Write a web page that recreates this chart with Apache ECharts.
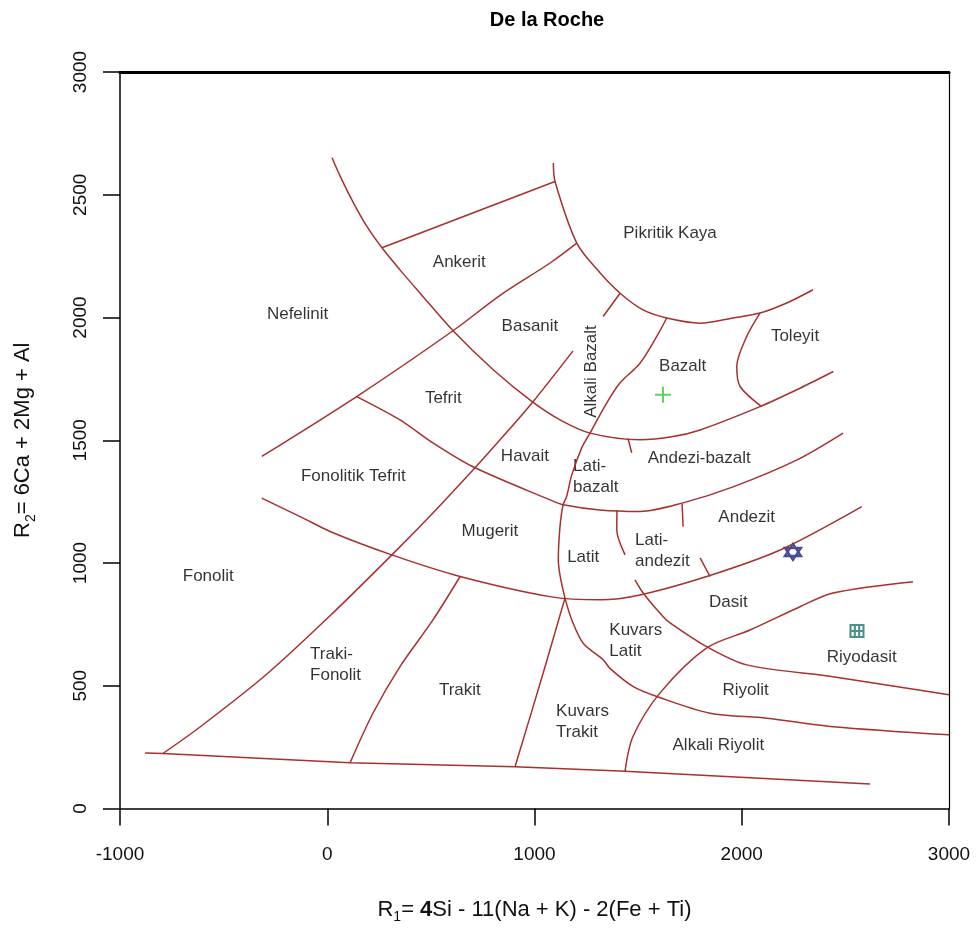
<!DOCTYPE html>
<html>
<head>
<meta charset="utf-8">
<script src="https://cdn.jsdelivr.net/npm/echarts@6/dist/echarts.min.js"></script>
<style>
  html, body { margin: 0; padding: 0; background: #ffffff; }
  #chart { width: 978px; height: 930px; }
</style>
</head>
<body>
<div id="chart"></div>
<script>
// De la Roche R1-R2 classification diagram: field boundaries in (R1, R2) units
const bndA = [[23,2651],[66,2569],[129,2463],[192,2370],[264,2284],[351,2194],[448,2099],[607,1946],[801,1787],[987,1658],[1123,1583],[1268,1529],[1509,1502],[1668,1515],[1799,1542],[2088,1637],[2281,1712],[2442,1780]];
const bndB = [[1091,2629],[1099,2554],[1204,2303],[1316,2182],[1413,2099],[1524,2031],[1638,1998],[1799,1977],[1958,1998],[2088,2018],[2217,2059],[2344,2113]];
const bndC = [[-316,1434],[142,1678],[607,1946],[834,2090],[1075,2222],[1204,2303]];
const bndD = [[142,1678],[351,1583],[510,1489],[703,1392],[1075,1257],[1138,1237],[1316,1216],[1509,1210],[1717,1245],[1958,1310],[2267,1420],[2489,1529]];
const bndE = [[-316,1264],[-131,1189],[28,1123],[311,1033],[641,945],[1075,863],[1316,850],[1509,870],[1831,945],[2185,1053],[2579,1230]];
const bndF1 = [[-793,224],[-614,332],[-291,548],[28,797],[312,1033],[510,1204],[703,1379],[834,1502],[988,1652],[1186,1864]];
const bndF2 = [[1331,2004],[1413,2099]];
const bndG = [[264,2284],[1099,2554]];
const bndH = [[1638,1998],[1590,1923],[1509,1814],[1413,1734],[1348,1651],[1268,1529],[1228,1469],[1180,1359],[1155,1271],[1138,1237],[1123,1148],[1115,1013],[1147,857]];
const bndI = [[1147,857],[1042,552],[906,170]];
const bndJ = [[1147,857],[1180,768],[1235,673],[1332,605],[1364,571],[1477,496],[1590,456],[1847,388],[2120,368],[2442,333],[3000,300]];
const bndK = [[1485,931],[1524,878],[1620,782],[1654,756],[1831,659],[2024,585],[2440,537],[3000,463]];
const bndL = [[1398,1216],[1397,1135],[1437,1033]];
const bndM = [[1712,1241],[1717,1148]];
const bndN = [[1799,1021],[1847,945]];
const bndO = [[1451,1508],[1469,1449]];
const bndP = [[2826,924],[2440,878],[2281,822],[2040,727],[1831,654],[1606,471],[1475,293],[1437,152]];
const bndQ = [[2088,2018],[2024,1923],[1976,1800],[1992,1719],[2096,1637]];
const bndS = [[-879,226],[-793,224],[110,186],[906,170],[1437,152],[2619,100]];
const bndT = [[641,945],[510,768],[351,578],[221,389],[110,186]];

const curvedBoundaries = [bndA, bndB, bndC, bndD, bndE, bndF1, bndH, bndI, bndJ, bndK, bndL, bndP, bndQ, bndT];
const straightBoundaries = [bndF2, bndG, bndM, bndN, bndO, bndS];

// Field names and their anchor points
const fieldNames = ['Ankerit','Nefelinit','Basanit','Tefrit','Havait','Fonolitik Tefrit','Mugerit','Fonolit','Trakit','Pikritik Kaya','Bazalt','Toleyit','Andezi-bazalt','Andezit','Latit','Dasit','Riyodasit','Riyolit','Alkali Riyolit'];
const fieldPos = [[637,2224],[-143,2014],[978,1963],[560,1672],[954,1436],[126,1352],[785,1128],[-574,945],[640,483],[1654,2344],[1715,1800],[2257,1923],[1795,1427],[2024,1187],[1235,1024],[1935,839],[2579,616],[2019,483],[1887,259]];
// Two-line names, left aligned at their anchor
const stackedNames = ['Traki-\nFonolit','Lati-\nbazalt','Lati-\nandezit','Kuvars\nLatit','Kuvars\nTrakit'];
const stackedPos = [[-83,586],[1186,1350],[1485,1051],[1361,685],[1104,352]];
// Vertical name
const verticalNames = ['Alkali Bazalt'];
const verticalPos = [[1276,1780]];

// Samples
const samplePlus = [[1620,1685]];
const sampleStar = [[2247,1045]];
const sampleGrid = [[2556,723]];

// Axis ticks
const xTicks = [-1000, 0, 1000, 2000, 3000];
const yTicks = [0, 500, 1000, 1500, 2000, 2500, 3000];

const lineColor = '#a8302e';
const font = '"Liberation Sans", Arial, sans-serif';

const series = [];
curvedBoundaries.forEach(function (d) {
  series.push({ type: 'line', data: d, symbol: 'none', smooth: 0.3, silent: true,
    lineStyle: { color: lineColor, width: 1.5 } });
});
straightBoundaries.forEach(function (d) {
  series.push({ type: 'line', data: d, symbol: 'none', smooth: false, silent: true,
    lineStyle: { color: lineColor, width: 1.5 } });
});

const labelBase = { show: true, position: [0, 0], color: '#000', fontFamily: font, fontSize: 17 };
series.push({
  type: 'scatter', symbolSize: 0, silent: true,
  data: fieldNames.map(function (n, i) { return { name: n, value: fieldPos[i] }; }),
  label: Object.assign({}, labelBase, { formatter: '{b}', align: 'center', verticalAlign: 'middle' })
});
series.push({
  type: 'scatter', symbolSize: 0, silent: true,
  data: stackedNames.map(function (n, i) { return { name: n, value: stackedPos[i] }; }),
  label: Object.assign({}, labelBase, { formatter: '{b}', align: 'left', verticalAlign: 'middle', lineHeight: 21 })
});
series.push({
  type: 'scatter', symbolSize: 0, silent: true,
  data: verticalNames.map(function (n, i) { return { name: n, value: verticalPos[i] }; }),
  label: Object.assign({}, labelBase, { formatter: '{b}', align: 'center', verticalAlign: 'middle', rotate: 90 })
});

series.push({
  type: 'scatter', data: samplePlus, symbolSize: [16, 16], silent: true,
  symbol: 'path://M-1,-8 L1,-8 L1,-1 L8,-1 L8,1 L1,1 L1,8 L-1,8 L-1,1 L-8,1 L-8,-1 L-1,-1 Z',
  itemStyle: { color: '#3cc43c' }
});
series.push({
  type: 'scatter', data: sampleStar, symbolSize: [16, 16], silent: true,
  symbol: 'path://M0,-10 L8.66,5 L-8.66,5 Z M0,10 L-8.66,-5 L8.66,-5 Z',
  itemStyle: { color: 'rgba(0,0,0,0)', borderColor: '#1c1f78', borderWidth: 2.4 }
});
series.push({
  type: 'scatter', data: sampleGrid, symbolSize: [13, 12], silent: true,
  symbol: 'path://M-6,-5 L6,-5 L6,5 L-6,5 Z M-2,-5 L-2,5 M2,-5 L2,5 M-6,0 L6,0',
  itemStyle: { color: 'rgba(0,0,0,0)', borderColor: '#1f7470', borderWidth: 2 }
});

function plainNumber(v) { return String(v); }

const chart = echarts.init(document.getElementById('chart'), null, { renderer: 'canvas' });
chart.setOption({
  animation: false,
  backgroundColor: '#ffffff',
  title: {
    text: 'De la Roche', left: 542, top: 5, textAlign: 'center',
    textStyle: { fontFamily: font, fontWeight: 'bold', fontSize: 20, color: '#000' }
  },
  grid: { left: 120, right: 29, top: 72, bottom: 121.5, containLabel: false },
  xAxis: [{
    type: 'value', position: 'bottom', min: xTicks[0], max: xTicks[xTicks.length - 1], interval: 1000,
    axisLine: { show: true, onZero: false, lineStyle: { color: '#000', width: 1.5 } },
    axisTick: { show: true, inside: false, length: 17, lineStyle: { color: '#000', width: 1.5 } },
    axisLabel: { margin: 37, fontFamily: font, fontSize: 19, color: '#111', formatter: plainNumber },
    splitLine: { show: false },
    name: '{a|R}{s|1}{a|= }{b|4}{a|Si - 11(Na + K) - 2(Fe + Ti)}',
    nameLocation: 'middle', nameGap: 86,
    nameTextStyle: {
      rich: {
        a: { fontFamily: font, fontSize: 22, lineHeight: 30, color: '#111' },
        b: { fontFamily: font, fontSize: 22, lineHeight: 30, fontWeight: 'bold', color: '#111' },
        s: { fontFamily: font, fontSize: 14, lineHeight: 14, verticalAlign: 'bottom', color: '#111' }
      }
    }
  }, {
    type: 'value', position: 'top', min: xTicks[0], max: xTicks[xTicks.length - 1],
    axisLine: { show: true, onZero: false, lineStyle: { color: '#000', width: 3 } },
    axisTick: { show: false }, axisLabel: { show: false }, splitLine: { show: false }
  }],
  yAxis: [{
    type: 'value', position: 'left', min: yTicks[0], max: yTicks[yTicks.length - 1], interval: 500,
    axisLine: { show: true, onZero: false, lineStyle: { color: '#000', width: 1.5 } },
    axisTick: { show: true, inside: false, length: 17, lineStyle: { color: '#000', width: 1.5 } },
    axisLabel: { rotate: 90, margin: 30, fontFamily: font, fontSize: 19, color: '#111', formatter: plainNumber },
    splitLine: { show: false },
    name: '{a|R}{s|2}{a|= 6Ca + 2Mg + Al}',
    nameLocation: 'middle', nameGap: 82, nameRotate: 90,
    nameTextStyle: {
      rich: {
        a: { fontFamily: font, fontSize: 22, lineHeight: 30, color: '#111' },
        s: { fontFamily: font, fontSize: 14, lineHeight: 14, verticalAlign: 'bottom', color: '#111' }
      }
    }
  }, {
    type: 'value', position: 'right', min: yTicks[0], max: yTicks[yTicks.length - 1],
    axisLine: { show: true, onZero: false, lineStyle: { color: '#000', width: 1.2 } },
    axisTick: { show: false }, axisLabel: { show: false }, splitLine: { show: false }
  }],
  series: series
});
</script>
</body>
</html>
